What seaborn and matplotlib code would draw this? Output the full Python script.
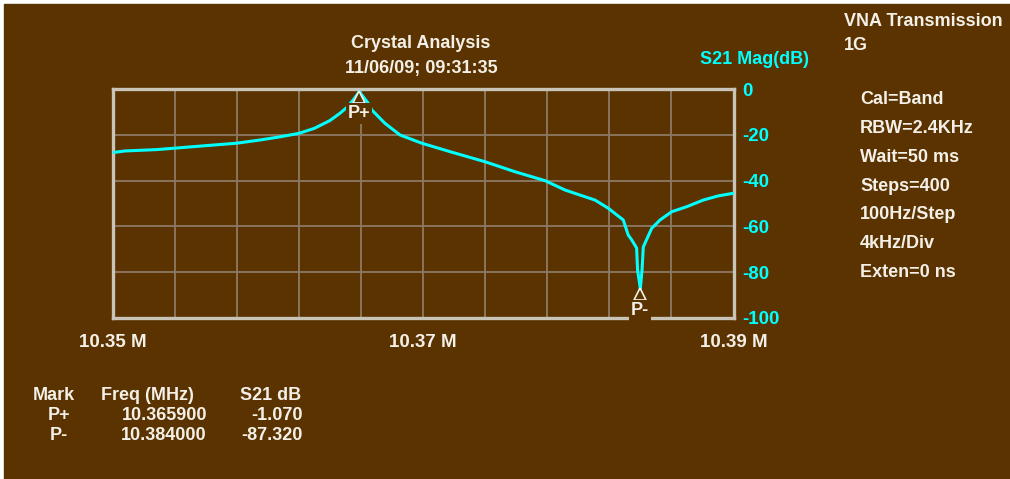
import matplotlib
matplotlib.use("Agg")
import matplotlib.pyplot as plt
import matplotlib.transforms as mtransforms
from matplotlib.patches import Rectangle
import pandas as pd
import seaborn as sns

# S21 trace (MHz, dB)
freq_mhz = [10.35000, 10.35080, 10.35285, 10.35396, 10.35596, 10.35800, 10.35950,
            10.36080, 10.36200, 10.36300, 10.36400, 10.36465, 10.36510, 10.36550,
            10.36590, 10.36646, 10.36671, 10.36755, 10.36852, 10.36992, 10.37174,
            10.37399, 10.37593, 10.37786, 10.37915, 10.38011, 10.38108, 10.38194,
            10.38248, 10.38290, 10.38322, 10.38345, 10.38376, 10.38382, 10.38400,
            10.38411, 10.38419, 10.38473, 10.38527, 10.38602, 10.38699, 10.38805,
            10.38900, 10.39000]
s21_db = [-27.7, -27.0, -26.4, -25.8, -24.7, -23.6, -22.2,
          -20.8, -19.3, -17.1, -13.7, -10.5, -7.9, -4.7,
          -1.07, -6.0, -9.1, -14.9, -20.0, -23.6, -27.3,
          -31.7, -36.1, -40.0, -44.1, -46.3, -48.5, -52.1,
          -55.0, -57.2, -63.8, -66.0, -69.5, -79.1, -87.32,
          -79.1, -69.0, -60.9, -57.2, -53.6, -51.4, -48.5,
          -46.7, -45.5]

grid_freqs = [10.350, 10.354, 10.358, 10.362, 10.366, 10.370,
              10.374, 10.378, 10.382, 10.386, 10.390]
freq_labels = ["10.35 M", "", "", "", "", "10.37 M", "", "", "", "", "10.39 M"]
db_ticks = [0, -20, -40, -60, -80, -100]

marker_names = ["P+", "P-"]
marker_freqs = [10.3659, 10.3840]
marker_dbs = [-1.070, -87.320]
marker_freq_txt = ["10.365900", "10.384000"]
marker_db_txt = ["-1.070", "-87.320"]

settings = ["Cal=Band", "RBW=2.4KHz", "Wait=50 ms", "Steps=400",
            "100Hz/Step", "4kHz/Div", "Exten=0 ns"]

BROWN = "#5a3300"
FRAME = "#c8c4b8"
GRID = "#8c7a66"
CYAN = "#00ffff"
TXT = "#f4f0e8"
FS = 13

sns.set_theme(style="dark")
plt.rcParams["font.family"] = ["Liberation Sans", "DejaVu Sans"]
plt.rcParams["font.weight"] = "bold"
plt.rcParams["axes.unicode_minus"] = False

W, H = 1010, 479
fig = plt.figure(figsize=(W / 100, H / 100), dpi=100)
fig.patch.set_facecolor("white")
fig.add_artist(Rectangle((4 / W, 0), 1, 1 - 4 / H, transform=fig.transFigure,
                         color=BROWN, zorder=-10))


def px(x, y):
    return x / W, 1 - y / H


ax = fig.add_axes([112.5 / W, 1 - 317.7 / H, 621 / W, 228.4 / H])
ax.set_facecolor(BROWN)

df = pd.DataFrame({"freq": freq_mhz, "db": s21_db})
sns.lineplot(data=df, x="freq", y="db", ax=ax, color=CYAN, lw=2.2,
             estimator=None, sort=False, zorder=3)

ax.set_xlim(10.35, 10.39)
ax.set_ylim(-100, 0)
ax.set_xticks(grid_freqs)
ax.set_xticklabels(freq_labels)
ax.set_yticks(db_ticks)
ax.yaxis.tick_right()
ax.set_xlabel("")
ax.set_ylabel("")
ax.tick_params(axis="x", length=0, pad=12, colors=TXT, labelsize=13.5)
ax.tick_params(axis="y", length=0, pad=6, colors=CYAN, labelsize=13.5)
for lab in ax.get_xticklabels() + ax.get_yticklabels():
    lab.set_fontweight("bold")
ax.grid(True, color=GRID, lw=1.3)
for sp in ax.spines.values():
    sp.set_visible(True)
    sp.set_color(FRAME)
    sp.set_linewidth(2.4)

# markers: open triangle hanging under the point, label below it
tri = mtransforms.offset_copy(ax.transData, fig=fig, y=-4, units="points")
lab_tr = mtransforms.offset_copy(ax.transData, fig=fig, y=-15.5, units="points")
ax.plot(marker_freqs, marker_dbs, ls="none", marker="^", ms=9, mfc=BROWN,
        mec=TXT, mew=1.2, transform=tri, clip_on=False, zorder=6)
for name, f, d in zip(marker_names, marker_freqs, marker_dbs):
    ax.text(f, d, name, transform=lab_tr, ha="center", va="center", color=TXT,
            fontsize=FS, fontweight="bold", clip_on=False, zorder=6,
            bbox=dict(boxstyle="square,pad=0.1", fc=BROWN, ec="none"))

# titles and side text
fig.text(*px(421, 44), "Crystal Analysis", ha="center", va="center",
         color=TXT, fontsize=FS, fontweight="bold")
fig.text(*px(421, 69), "11/06/09; 09:31:35", ha="center", va="center",
         color=TXT, fontsize=FS, fontweight="bold")
fig.text(*px(754, 60), "S21 Mag(dB)", ha="center", va="center",
         color=CYAN, fontsize=FS, fontweight="bold")
fig.text(*px(844, 21), "VNA Transmission", ha="left", va="center",
         color=TXT, fontsize=FS, fontweight="bold")
fig.text(*px(844, 45), "1G", ha="left", va="center",
         color=TXT, fontsize=FS, fontweight="bold")
for i, s in enumerate(settings):
    fig.text(*px(860, 100 + i * 28.7), s, ha="left", va="center",
             color=TXT, fontsize=FS, fontweight="bold")

# marker table
fig.text(*px(33, 395), "Mark", ha="left", va="center", color=TXT,
         fontsize=FS, fontweight="bold")
fig.text(*px(101, 395), "Freq (MHz)", ha="left", va="center", color=TXT,
         fontsize=FS, fontweight="bold")
fig.text(*px(301, 395), "S21 dB", ha="right", va="center", color=TXT,
         fontsize=FS, fontweight="bold")
for i, name in enumerate(marker_names):
    y = 415 + i * 21
    fig.text(*px(59, y), name, ha="center", va="center", color=TXT,
             fontsize=FS, fontweight="bold")
    fig.text(*px(207, y), marker_freq_txt[i], ha="right", va="center",
             color=TXT, fontsize=FS, fontweight="bold")
    fig.text(*px(303, y), marker_db_txt[i], ha="right", va="center",
             color=TXT, fontsize=FS, fontweight="bold")

fig.savefig("out.png", dpi=100, facecolor=fig.get_facecolor())
